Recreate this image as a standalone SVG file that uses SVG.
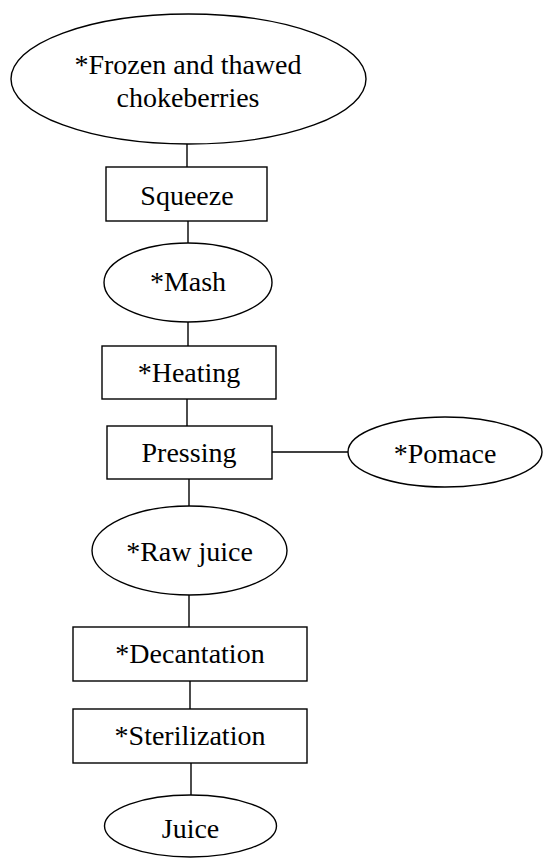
<svg xmlns="http://www.w3.org/2000/svg" width="543" height="859" viewBox="0 0 543 859">
<style>
.s{fill:#fff;stroke:#000;stroke-width:1.4}
.c{stroke:#000;stroke-width:1.4;fill:none}
text{font-family:"Liberation Serif","Times New Roman",serif;font-size:28px;fill:#000;text-anchor:middle}
</style>
<rect width="543" height="859" fill="#fff"/>
<g id="connectors">
<line class="c" x1="187" y1="144" x2="187" y2="167"/>
<line class="c" x1="188" y1="221" x2="188" y2="243"/>
<line class="c" x1="188" y1="322" x2="188" y2="346"/>
<line class="c" x1="187" y1="399" x2="187" y2="426"/>
<line class="c" x1="272" y1="452" x2="348" y2="452"/>
<line class="c" x1="189" y1="479" x2="189" y2="506"/>
<line class="c" x1="189" y1="595" x2="189" y2="627"/>
<line class="c" x1="190" y1="681" x2="190" y2="709"/>
<line class="c" x1="191" y1="763" x2="191" y2="795"/>
</g>
<g id="frozen">
<ellipse class="s" cx="188.5" cy="79" rx="177.5" ry="65"/>
<text x="188" y="74">*Frozen and thawed</text>
<text x="188" y="107">chokeberries</text>
</g>
<g id="squeeze">
<rect class="s" x="106" y="167" width="161" height="54"/>
<text x="187" y="205">Squeeze</text>
</g>
<g id="mash">
<ellipse class="s" cx="188" cy="282.5" rx="84" ry="39.5"/>
<text x="188" y="291">*Mash</text>
</g>
<g id="heating">
<rect class="s" x="102" y="346" width="174" height="53"/>
<text x="189" y="382">*Heating</text>
</g>
<g id="pressing">
<rect class="s" x="107" y="426" width="165" height="53"/>
<text x="189" y="462">Pressing</text>
</g>
<g id="pomace">
<ellipse class="s" cx="445" cy="452" rx="97" ry="35"/>
<text x="445" y="463">*Pomace</text>
</g>
<g id="rawjuice">
<ellipse class="s" cx="189.5" cy="550.5" rx="97.5" ry="44.5"/>
<text x="189.5" y="561">*Raw juice</text>
</g>
<g id="decantation">
<rect class="s" x="73" y="627" width="234" height="54"/>
<text x="190" y="663">*Decantation</text>
</g>
<g id="sterilization">
<rect class="s" x="73" y="709" width="234" height="54"/>
<text x="190" y="745">*Sterilization</text>
</g>
<g id="juice">
<ellipse class="s" cx="190.5" cy="826" rx="86" ry="31"/>
<text x="190.5" y="838">Juice</text>
</g>
</svg>
